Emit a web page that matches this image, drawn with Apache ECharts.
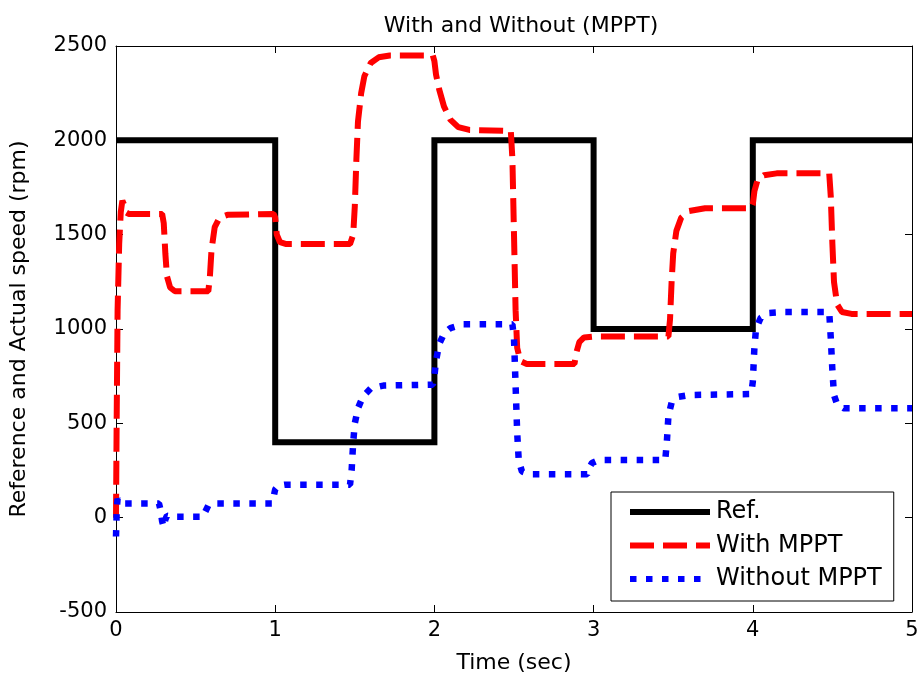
<!DOCTYPE html>
<html>
<head>
<meta charset="utf-8">
<script src="https://cdn.jsdelivr.net/npm/echarts@6/dist/echarts.min.js"></script>
<style>html,body{margin:0;padding:0;background:#fff}#c{width:923px;height:680px}</style>
</head>
<body>
<div id="c"></div>
<script>
var xTicks = [0, 1, 2, 3, 4, 5];
var yTicks = [-500, 0, 500, 1000, 1500, 2000, 2500];

var refTime  = [0, 1, 1, 2, 2, 3, 3, 4, 4, 5];
var refSpeed = [2000, 2000, 400, 400, 2000, 2000, 1000, 1000, 2000, 2000];

var withTime = [0,0.004,0.01,0.02,0.03,0.04,0.05,0.06,0.08,0.29,0.3,0.31,0.32,0.34,0.37,0.58,0.59,0.6,0.62,0.65,0.7,0.99,1.0,1.01,1.03,1.07,1.47,1.49,1.5,1.51,1.52,1.54,1.56,1.6,1.65,1.72,1.99,2.0,2.01,2.03,2.06,2.1,2.15,2.22,2.48,2.49,2.5,2.51,2.52,2.54,2.58,2.88,2.89,2.91,2.94,3.0,3.47,3.48,3.49,3.5,3.52,3.55,3.6,3.7,3.99,4.0,4.01,4.03,4.07,4.15,4.48,4.49,4.5,4.51,4.53,4.56,4.62,5];
var withSpeed = [0,500,1100,1450,1620,1680,1660,1620,1610,1610,1560,1400,1280,1220,1200,1200,1280,1420,1540,1590,1605,1610,1590,1500,1460,1450,1450,1500,1650,1900,2100,2250,2340,2410,2440,2450,2450,2420,2350,2270,2180,2110,2070,2055,2050,1900,1500,1100,900,830,815,815,870,930,955,960,960,1050,1250,1400,1520,1590,1625,1640,1640,1660,1730,1790,1815,1825,1825,1700,1450,1250,1130,1090,1080,1080];

var withoutTime = [0,0.005,0.01,0.02,0.04,0.27,0.28,0.29,0.3,0.31,0.32,0.35,0.55,0.56,0.58,0.62,0.98,0.99,1.0,1.02,1.06,1.47,1.48,1.49,1.5,1.52,1.55,1.6,1.68,1.99,2.0,2.01,2.03,2.06,2.1,2.18,2.49,2.5,2.51,2.52,2.53,2.55,2.6,2.96,2.97,2.99,3.03,3.45,3.46,3.47,3.49,3.53,3.6,3.99,4.0,4.01,4.02,4.05,4.1,4.2,4.48,4.49,4.5,4.51,4.53,4.57,5];
var withoutSpeed = [-100,50,100,80,75,75,40,-20,-50,-10,10,5,5,30,65,75,75,110,150,170,175,175,250,400,500,580,640,685,700,705,750,830,920,975,1005,1025,1025,950,700,450,300,245,230,230,260,290,305,305,400,540,610,640,650,655,720,900,1000,1060,1085,1090,1090,950,780,650,600,580,580];

function zip(a, b) { return a.map(function (t, i) { return [t, b[i]]; }); }

var FONT = 'DejaVu Sans';
var chart = echarts.init(document.getElementById('c'), null, {renderer: 'canvas'});
var axisCommon = {
  axisLine: {show: true, onZero: false, lineStyle: {color: '#000', width: 1}},
  axisTick: {show: true, inside: true, length: 7, lineStyle: {color: '#000', width: 1}},
  splitLine: {show: false}
};
chart.setOption({
  backgroundColor: '#fff',
  animation: false,
  title: {
    text: 'With and Without (MPPT)',
    left: 516, top: 10, textAlign: 'center',
    textStyle: {fontFamily: FONT, fontSize: 22, fontWeight: 'normal', color: '#000'}
  },
  grid: {left: 116, right: 11, top: 46, bottom: 68},
  legend: {
    orient: 'vertical',
    left: 611, top: 492,
    backgroundColor: '#fff',
    borderColor: '#000', borderWidth: 1, borderRadius: 0,
    padding: [8, 12, 10, 16],
    itemWidth: 80, itemHeight: 24, itemGap: 9.5,
    itemStyle: {opacity: 0, borderWidth: 0},
    lineStyle: {width: 6},
    textStyle: {fontFamily: FONT, fontSize: 24, color: '#000', lineHeight: 24, padding: [0, 0, 0, 1]},
    data: ['Ref.', 'With MPPT', 'Without MPPT']
  },
  xAxis: [
    Object.assign({}, axisCommon, {
      type: 'value', min: xTicks[0], max: xTicks[xTicks.length - 1], interval: 1,
      name: 'Time (sec)', nameLocation: 'middle', nameGap: 40,
      nameTextStyle: {fontFamily: FONT, fontSize: 22, color: '#000'},
      axisLabel: {fontFamily: FONT, fontSize: 21, color: '#000', margin: 8, formatter: function (v) { return String(v); }}
    }),
    Object.assign({}, axisCommon, {
      type: 'value', position: 'top', min: xTicks[0], max: xTicks[xTicks.length - 1], interval: 1,
      axisLabel: {show: false}
    })
  ],
  yAxis: [
    Object.assign({}, axisCommon, {
      type: 'value', min: yTicks[0], max: yTicks[yTicks.length - 1], interval: 500,
      name: 'Reference and Actual speed (rpm)', nameLocation: 'middle', nameGap: 86,
      nameTextStyle: {fontFamily: FONT, fontSize: 22, color: '#000'},
      axisLabel: {fontFamily: FONT, fontSize: 21, color: '#000', margin: 9, formatter: function (v) { return String(v); }}
    }),
    Object.assign({}, axisCommon, {
      type: 'value', position: 'right', min: yTicks[0], max: yTicks[yTicks.length - 1], interval: 500,
      axisLabel: {show: false}
    })
  ],
  series: [
    {
      name: 'Ref.', type: 'line', data: zip(refTime, refSpeed),
      showSymbol: false, symbol: 'none',
      color: '#000',
      lineStyle: {color: '#000', width: 6, type: 'solid', join: 'miter'}
    },
    {
      name: 'With MPPT', type: 'line', data: zip(withTime, withSpeed),
      showSymbol: false, symbol: 'none',
      color: '#ff0000',
      lineStyle: {color: '#ff0000', width: 6, type: [24, 9], cap: 'butt'}
    },
    {
      name: 'Without MPPT', type: 'line', data: zip(withoutTime, withoutSpeed),
      showSymbol: false, symbol: 'none',
      color: '#0000ff',
      lineStyle: {color: '#0000ff', width: 6.5, type: [6.5, 9.5], cap: 'butt'}
    }
  ]
});
</script>
</body>
</html>
